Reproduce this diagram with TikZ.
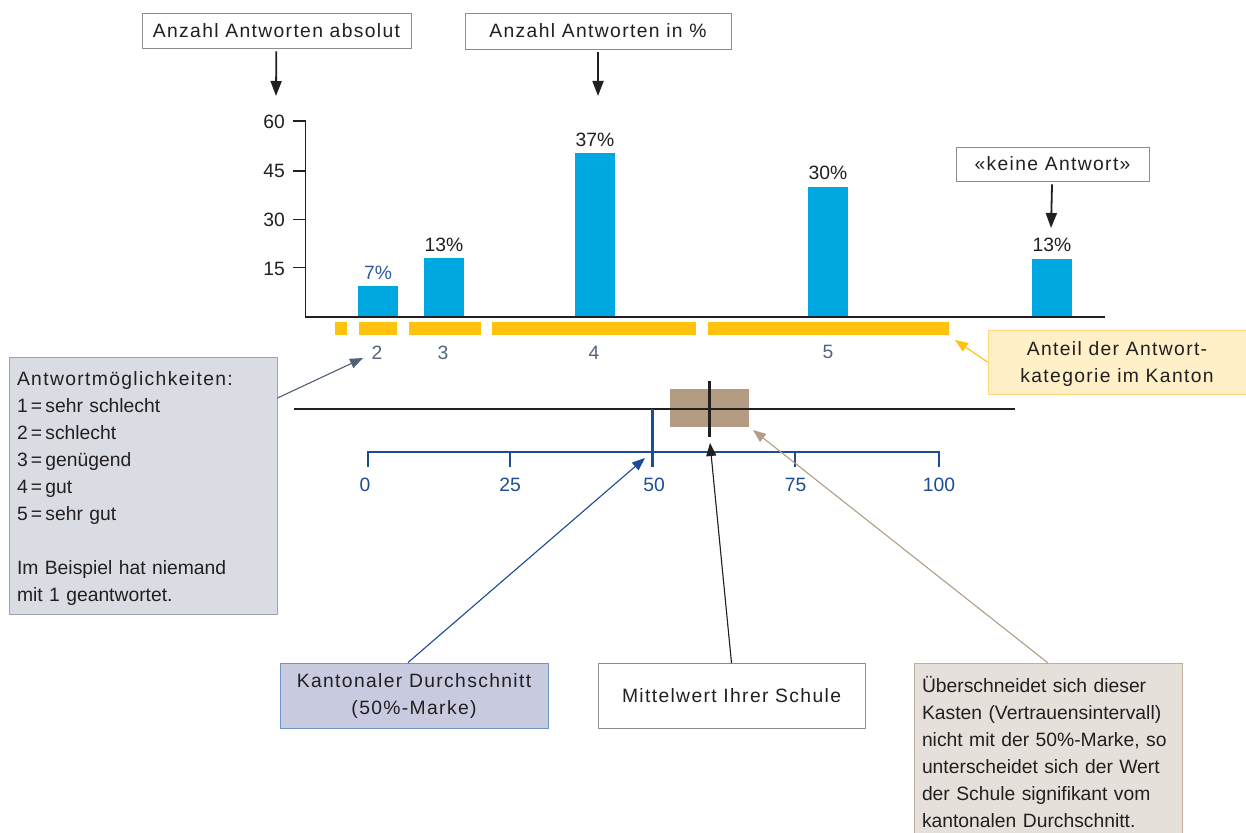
\documentclass[tikz,border=0pt]{standalone}
\usepackage{fontspec}
\setmainfont{Liberation Sans}
\newfontfamily\trk[LetterSpace=7]{Liberation Sans}
\usetikzlibrary{arrows.meta}
\definecolor{txt}{HTML}{231F20}
\definecolor{barblue}{HTML}{00A8E1}
\definecolor{orng}{HTML}{FFC20E}
\definecolor{axblue}{HTML}{1B4C94}
\definecolor{pctblue}{HTML}{2D5B9E}
\definecolor{catgray}{HTML}{55647E}
\definecolor{cibrown}{HTML}{B49C82}
\definecolor{gfill}{HTML}{D9DCE3}
\definecolor{gdraw}{HTML}{98A4B8}
\definecolor{yfill}{HTML}{FFF0C8}
\definecolor{ydraw}{HTML}{FFD67A}
\definecolor{kfill}{HTML}{C8CAE0}
\definecolor{kdraw}{HTML}{6F95C8}
\definecolor{ufill}{HTML}{E5E0DA}
\definecolor{udraw}{HTML}{C0AE9A}
\definecolor{tanarr}{HTML}{B39D86}
\definecolor{boxgray}{HTML}{8C8C8C}
\definecolor{arrgray}{HTML}{50607A}
\definecolor{yarr}{HTML}{FFC20E}
\tikzset{
  basefont/.style={font=\fontsize{19.3}{27}\selectfont},
  every node/.style={text=txt, basefont},
  hbox/.style={draw=boxgray, line width=0.9pt, fill=white, inner sep=0pt,
    font=\fontsize{19.3}{27}\selectfont\trk},
  barfill/.style={fill=barblue},
  seg/.style={fill=orng},
  pct/.style={inner sep=0pt},
  ylab/.style={inner sep=0pt, anchor=east},
  cat/.style={text=catgray, inner sep=0pt},
  axlab/.style={text=axblue, inner sep=0pt},
  blk/.style={draw=txt, line width=1.8pt, -{Triangle[length=15pt,width=11pt]}},
  thinarr/.style={line width=1.1pt, -{Triangle[length=13pt,width=10pt]}},
}
\begin{document}
\begin{tikzpicture}[x=1pt,y=-1pt]
\useasboundingbox (0,0) rectangle (1246,832);

% header boxes
\node[hbox, minimum width=269pt, minimum height=35pt] (habs) at (276.5,30.5) {Anzahl Antworten absolut};
\node[hbox, minimum width=266pt, minimum height=36pt] (hpct) at (598,31) {Anzahl Antworten in \%};
\node[hbox, minimum width=193pt, minimum height=34pt] (hkey) at (1052.5,164) {«keine Antwort»};
\coordinate (absT) at (276,96);
\coordinate (pctT) at (598,96);
\coordinate (keyT) at (1051,228);
\draw[blk, shorten <=3pt] (habs) -- (absT);
\draw[blk, shorten <=3pt] (hpct) -- (pctT);
\draw[blk, shorten <=3pt] (hkey) -- (keyT);

% bars
\fill[barfill] (358,316.7) rectangle (398,285.7);
\fill[barfill] (424,316.7) rectangle (464,257.7);
\fill[barfill] (575,316.7) rectangle (615,152.7);
\fill[barfill] (808,316.7) rectangle (848,186.7);
\fill[barfill] (1032,316.7) rectangle (1072,259);

% axes
\draw[draw=txt, line width=1.6pt] (305.5,121) -- (305.5,316.7);
\draw[draw=txt, line width=2.4pt] (304.7,316.7) -- (1105,316.7);
\foreach \yy in {121,171,219.3,267.7} \draw[draw=txt, line width=1.4pt] (293,\yy) -- (305.5,\yy);
\node[ylab] (y60) at (285,121.5) {60};
\node[ylab] (y45) at (285,171) {45};
\node[ylab] (y30) at (285,220) {30};
\node[ylab] (y15) at (285,268.5) {15};

% percentages
\node[pct, text=pctblue] (p2) at (378,273) {7\%};
\node[pct] (p3) at (444,244.5) {13\%};
\node[pct] (p4) at (595,139.5) {37\%};
\node[pct] (p5) at (828,173) {30\%};
\node[pct] (pk) at (1052,245) {13\%};

% orange strip
\fill[seg] (335,322) rectangle (347,334.5);
\fill[seg] (359,322) rectangle (397,334.5);
\fill[seg] (409,322) rectangle (481,334.5);
\fill[seg] (492,322) rectangle (696,334.5);
\fill[seg] (708,322) rectangle (949,334.5);

\node[cat] (c2) at (377,353) {2};
\node[cat] (c3) at (443,353) {3};
\node[cat] (c4) at (594,353) {4};
\node[cat] (c5) at (828,352) {5};

% yellow box
\node[draw=ydraw, fill=yfill, line width=1pt, minimum width=258pt, minimum height=64pt,
      align=center, inner sep=0pt, font=\fontsize{19.3}{27}\selectfont\trk] (ylw) at (1117,362)
      {\rule{0pt}{18pt}Anteil der Antwort-\\kategorie im Kanton};
\coordinate (yTip) at (955,340);
\draw[draw=yarr, fill=yarr, line width=1.1pt, -{Triangle[length=13pt,width=10pt]}] (ylw.west) -- (yTip);

% grey legend box
\node[draw=gdraw, fill=gfill, line width=1pt, minimum width=268pt, minimum height=257pt,
      text width=252pt, inner xsep=8pt, inner ysep=0pt, align=left] (gbox) at (143,485.5)
      {\rule{0pt}{20pt}{\trk Antwortmöglichkeiten:}\\1\,=\,sehr schlecht\\2\,=\,schlecht\\3\,=\,genügend\\4\,=\,gut\\5\,=\,sehr gut\\[27pt]Im Beispiel hat niemand\\mit 1 geantwortet.};
\coordinate (c2tip) at (363,358);
\draw[draw=arrgray, fill=arrgray, line width=1.1pt, -{Triangle[length=13pt,width=10pt]}] ([yshift=87.5pt]gbox.east) -- (c2tip);

% confidence interval
\node[fill=cibrown, minimum width=79pt, minimum height=38pt, inner sep=0pt] (ci) at (709.5,408) {};
\draw[draw=txt, line width=2.2pt] (294,409) -- (1015,409);
\draw[draw=txt, line width=3pt] (709.5,381) -- (709.5,437);
\coordinate (meanTip) at (710,443);
\draw[draw=axblue, line width=2.5pt] (652.5,409) -- (652.5,467);

% 0-100 scale
\draw[draw=axblue, line width=2.2pt] (368,467) -- (368,452) -- (939,452) -- (939,467);
\draw[draw=axblue, line width=2.2pt] (510,452) -- (510,467);
\draw[draw=axblue, line width=2.2pt] (795,452) -- (795,467);
\node[axlab] (a0) at (365,485) {0};
\node[axlab] (a25) at (510,485) {25};
\node[axlab] (a50) at (654,485) {50};
\node[axlab] (a75) at (795.5,485) {75};
\node[axlab] (a100) at (939,485) {100};
\coordinate (kTip) at (645,458);
\coordinate (uTip) at (753,430);

% bottom boxes
\node[draw=kdraw, fill=kfill, line width=1pt, minimum width=268pt, minimum height=65pt,
      align=center, inner sep=0pt, font=\fontsize{19.3}{27}\selectfont\trk] (kant) at (414,695.5)
      {Kantonaler Durchschnitt\\(50\%-Marke)};
\node[draw=boxgray, fill=white, line width=1pt, minimum width=267pt, minimum height=65pt,
      inner sep=0pt, font=\fontsize{19.3}{27}\selectfont\trk] (mitt) at (731.5,696)
      {Mittelwert Ihrer Schule};
\node[draw=udraw, fill=ufill, line width=1pt, minimum width=268pt, minimum height=177pt,
      text width=252pt, inner xsep=8pt, inner ysep=0pt, align=left, anchor=north] (ueb) at (1048,663)
      {Überschneidet sich dieser\\Kasten (Vertrauensintervall)\\nicht mit der 50\%-Marke, so\\unterscheidet sich der Wert\\der Schule signifikant vom\\kantonalen Durchschnitt.};

\draw[draw=axblue, fill=axblue, thinarr] ([xshift=-6pt]kant.north) -- (kTip);
\draw[draw=txt, fill=txt, thinarr] (mitt.north) -- (meanTip);
\draw[draw=tanarr, fill=tanarr, thinarr] (ueb.north) -- (uTip);
\end{tikzpicture}
\end{document}
